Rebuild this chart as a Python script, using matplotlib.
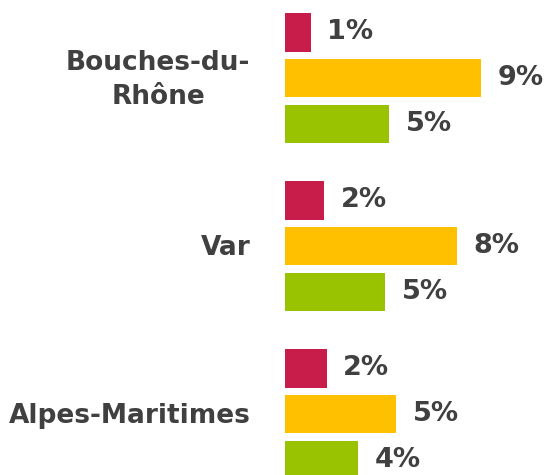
import matplotlib
matplotlib.use("Agg")
import matplotlib.pyplot as plt
import numpy as np

categories = ["Bouches-du-\nRhône", "Var", "Alpes-Maritimes"]
series_names = ["s1", "s2", "s3"]
values_red = [1.24, 1.89, 2.01]
values_yellow = [9.43, 8.29, 5.35]
values_green = [5.01, 4.83, 3.53]
colors = ["#C81D4A", "#FFC000", "#99C200"]
text_color = "#404040"

fig = plt.figure(figsize=(5.5, 4.75), dpi=100)
ax = fig.add_axes([285 / 550, 0, 265 / 550, 1])

step = 45.8 / 168
height = 38.3 / 168
ypos = np.arange(len(categories))
for k, (vals, col) in enumerate(zip([values_red, values_yellow, values_green], colors)):
    y = ypos + (k - 1) * step
    ax.barh(y, vals, height=height, color=col, edgecolor="none")
    for yy, v in zip(y, vals):
        ax.text(v + 0.8, yy, f"{round(v):d}%", va="center", ha="left",
                fontsize=19.5, fontweight="bold", color=text_color)

ax.set_xlim(0, 265 / 20.75)
ax.set_ylim(2.362, -0.4655)
ax.axis("off")

for yy, cat in zip(ypos, categories):
    ax.text(-1.67, yy + 0.01, cat, ha="right", va="center", multialignment="center",
            fontsize=19, fontweight="bold", color=text_color, linespacing=1.38)

fig.savefig("out.png", dpi=100)
